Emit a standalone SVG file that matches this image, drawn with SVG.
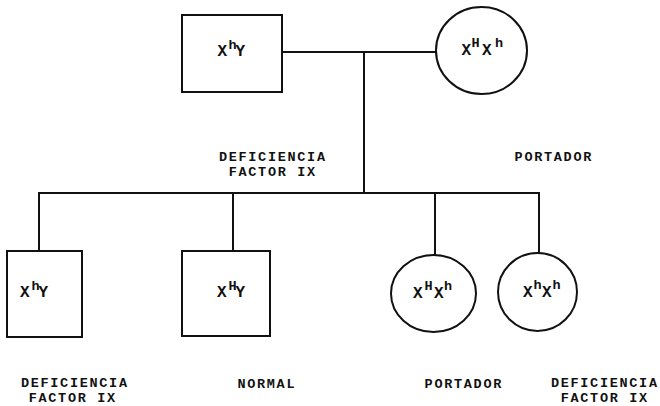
<svg xmlns="http://www.w3.org/2000/svg" width="660" height="406" viewBox="0 0 660 406">
<style>
.shape{fill:none;stroke:#111;stroke-width:2}
.ln{stroke:#111;stroke-width:2;fill:none}
.lbl{font-family:"Liberation Mono","Courier New",monospace;font-weight:bold;font-size:13.5px;letter-spacing:1.7px;fill:#111;text-anchor:middle}
.g{font-family:"Liberation Mono","Courier New",monospace;font-weight:bold;font-size:16px;fill:#111}
.s{font-size:13.5px}
</style>
<rect width="660" height="406" fill="#fff"/>
<g id="connectors">
<path class="ln" d="M282 52H436M364 52V193M38 193H540M39 193V251M233 193V251M435 193V255M539 193V253"/>
</g>
<g id="father">
<rect class="shape" x="182" y="15" width="100" height="77"/>
<text class="g"><tspan x="217.5" y="56">X</tspan><tspan class="s" x="228.5" y="49">h</tspan><tspan x="235.5" y="56">Y</tspan></text>
</g>
<g id="mother">
<ellipse class="shape" cx="481.5" cy="50.5" rx="45.5" ry="43.5"/>
<text class="g"><tspan x="461.5" y="55">X</tspan><tspan class="s" x="471.5" y="47">H</tspan><tspan x="482" y="55">X</tspan><tspan class="s" x="495" y="47">h</tspan></text>
</g>
<g id="child1">
<rect class="shape" x="7" y="251" width="75" height="86"/>
<text class="g"><tspan x="20" y="297">X</tspan><tspan class="s" x="31.5" y="290">h</tspan><tspan x="38.5" y="297">Y</tspan></text>
</g>
<g id="child2">
<rect class="shape" x="182" y="251" width="88" height="85"/>
<text class="g"><tspan x="217" y="297">X</tspan><tspan class="s" x="228.5" y="290">H</tspan><tspan x="235.5" y="297">Y</tspan></text>
</g>
<g id="child3">
<ellipse class="shape" cx="433.5" cy="293.5" rx="42.5" ry="38.5"/>
<text class="g"><tspan x="413" y="298">X</tspan><tspan class="s" x="424.5" y="290">H</tspan><tspan x="434" y="298">X</tspan><tspan class="s" x="444" y="290">h</tspan></text>
</g>
<g id="child4">
<ellipse class="shape" cx="537.5" cy="292" rx="39.5" ry="39"/>
<text class="g"><tspan x="523" y="297">X</tspan><tspan class="s" x="533.5" y="289">h</tspan><tspan x="542" y="297">X</tspan><tspan class="s" x="552.5" y="289">h</tspan></text>
</g>
<g id="labels">
<text class="lbl" x="272.8" y="161">DEFICIENCIA</text>
<text class="lbl" x="272.8" y="176">FACTOR IX</text>
<text class="lbl" x="553.8" y="161">PORTADOR</text>
<text class="lbl" x="74.8" y="387">DEFICIENCIA</text>
<text class="lbl" x="72.8" y="402">FACTOR IX</text>
<text class="lbl" x="266.8" y="388">NORMAL</text>
<text class="lbl" x="463.8" y="388">PORTADOR</text>
<text class="lbl" x="604.8" y="387">DEFICIENCIA</text>
<text class="lbl" x="604.8" y="402">FACTOR IX</text>
</g>
</svg>
